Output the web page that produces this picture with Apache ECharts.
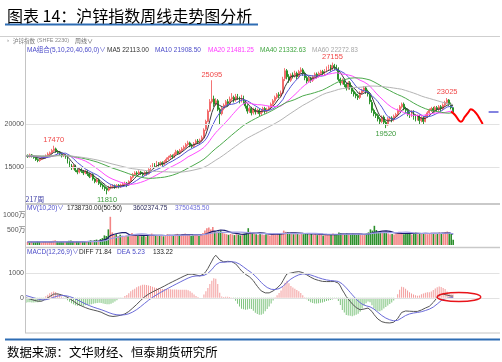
<!DOCTYPE html>
<html><head><meta charset="utf-8">
<script src="https://cdn.jsdelivr.net/npm/echarts@6/dist/echarts.min.js"></script>
<style>html,body{margin:0;padding:0;background:#fff}#c{width:502px;height:362px}</style>
</head><body><div id="c"></div>
<script>
// ---- data (weekly, 217 weeks) ----
const opens = [16250,16350,16200,16400,16250,16100,15850,15750,15900,16050,
16150,16300,16500,16650,16900,17100,16800,16700,16500,16300,
16400,16150,15600,15200,14900,15100,14600,14400,14700,14500,
14300,14500,14200,13900,14100,13600,13300,13500,13100,12900,
12700,12500,12300,12600,12700,12800,12650,12850,12700,12900,
13000,13100,12900,13300,13800,14100,14300,14200,14400,14250,
14100,14350,14200,14700,15000,15300,15100,15400,15250,15500,
15300,15600,15900,16100,16300,16200,16500,16800,16600,16900,
17100,17300,17600,17800,17500,17400,17700,18000,17900,18100,
18400,19400,20300,21500,22600,22900,22300,22700,21700,21200,
21800,22200,22600,22400,22900,23100,22800,23200,23000,22700,
23100,22600,22100,21500,21800,21300,21700,21400,21600,21200,
21500,21800,21500,21700,21900,22300,22700,23100,23400,23300,
23600,25300,26200,25500,25100,25700,25600,25900,25500,26100,
26300,25900,25400,25000,25300,25100,25500,25800,25600,25900,
26100,25900,26200,26500,26700,26400,26800,26600,26400,25200,
24800,25100,24600,24200,24800,24300,23800,23500,23300,23100,
23600,23900,24200,23800,23500,22500,21600,21200,21000,20600,
20300,20800,20200,19900,20600,20700,20500,20900,21100,21600,
22000,22300,21800,21600,21200,21000,21400,20800,20600,20900,
20400,20700,20300,20900,21300,21600,21800,21500,21900,21700,
22000,21800,22200,22500,22800,22300,21900];
const closes = [16350,16200,16400,16250,16100,15850,15750,15900,16050,16150,
16300,16500,16650,16900,17100,16800,16700,16500,16300,16400,
16150,15600,15200,14900,15100,14600,14400,14700,14500,14300,
14500,14200,13900,14100,13600,13300,13500,13100,12900,12700,
12500,12300,12600,12700,12800,12650,12850,12700,12900,13000,
13100,12900,13300,13800,14100,14300,14200,14400,14250,14100,
14350,14200,14700,15000,15300,15100,15400,15250,15500,15300,
15600,15900,16100,16300,16200,16500,16800,16600,16900,17100,
17300,17600,17800,17500,17400,17700,18000,17900,18100,18400,
19300,20300,21500,22600,22900,22300,22700,21700,21200,21800,
22200,22600,22400,22900,23100,22800,23200,23000,22700,23100,
22600,22100,21500,21800,21300,21700,21400,21600,21200,21500,
21800,21500,21700,21900,22300,22700,23100,23400,23300,23600,
25200,26200,25500,25100,25700,25600,25900,25500,26100,26300,
25900,25400,25000,25300,25100,25500,25800,25600,25900,26100,
25900,26200,26500,26700,26400,26800,26600,26500,25200,24800,
25100,24600,24200,24800,24300,23800,23500,23300,23100,23600,
23900,24200,23800,23500,22600,21600,21200,21000,20600,20300,
20800,20200,19900,20600,20700,20500,20900,21100,21600,22000,
22300,21800,21600,21200,21000,21400,20800,20600,20900,20400,
20700,20300,20900,21300,21600,21800,21500,21900,21700,22000,
21800,22200,22500,22800,22300,21900,21400];
const lows = [16100,16050,16100,16100,15950,15700,15550,15600,15800,15900,
16000,16200,16350,16500,16750,16650,16500,16300,16100,16150,
15950,15400,15000,14650,14700,14400,14150,14250,14300,14050,
14150,13950,13700,13750,13400,13100,13150,12900,12650,12400,
12200,11810,12150,12400,12500,12450,12500,12500,12550,12750,
12800,12650,12800,13200,13650,13950,14000,14050,14050,13900,
13950,14000,14100,14550,14850,14900,14950,15050,15100,15100,
15200,15450,15750,15950,15950,16050,16350,16400,16450,16750,
16950,17150,17450,17300,17200,17250,17550,17650,17700,17950,
18300,19200,20200,21400,22400,22000,22100,21500,19900,21000,
21600,22000,22100,22200,22700,22500,22600,22800,22400,22500,
22300,21800,21200,21300,21000,21100,21100,21200,20900,21000,
21300,21200,21300,21500,21700,22100,22500,22900,23000,23100,
23500,25000,25200,24800,24900,25300,25400,25200,25300,25900,
25600,25100,24700,24800,24800,24900,25300,25300,25400,25700,
25600,25700,26000,26300,26100,26200,26300,26200,25000,24500,
24600,24300,23900,24000,24000,23500,23200,23000,22800,22900,
23400,23700,23500,23200,22300,21300,20900,20700,20300,20000,
20100,19900,19520,19800,20400,20200,20300,20700,20900,21400,
21800,21600,21300,20900,20700,20800,20500,20300,20400,20000,
20200,20000,20200,20700,21100,21400,21300,21300,21400,21500,
21500,21600,22000,22300,22100,21700,21300];
const highs = [16500,16450,16550,16500,16350,16200,16000,16050,16200,16300,
16450,16700,16800,17100,17470,17250,16950,16850,16650,16600,
16500,16250,15750,15350,15300,15250,14750,14900,14850,14650,
14700,14650,14350,14300,14250,13750,13700,13650,13250,13050,
12850,12650,12800,12900,13000,12950,13000,13000,13050,13200,
13300,13250,13450,13950,14300,14500,14500,14600,14550,14400,
14500,14500,14850,15200,15450,15450,15700,15550,15650,15650,
15800,16100,16300,16500,16450,16700,17000,16950,17100,17300,
17500,17800,18050,17950,17700,17900,18200,18250,18300,18650,
19500,20500,21700,22900,25095,23300,23000,22900,21900,22000,
22400,22800,22900,23200,23600,23300,23500,23500,23200,23400,
23300,22800,22300,22000,22000,21900,21900,21800,21800,21700,
22000,22000,21900,22100,22500,22900,23300,23600,23700,23900,
25500,26500,26400,25800,25900,26000,26200,26100,26300,26600,
26500,26100,25600,25500,25500,25700,26000,26000,26100,26300,
26300,26400,26700,26900,26900,27155,27000,26900,26600,25400,
25300,25300,24800,25000,25000,24500,24000,23700,23500,23800,
24100,24400,24400,24000,23700,22800,21800,21400,21200,20800,
21000,21000,20400,20800,20900,20900,21100,21300,21800,22200,
22500,22500,22000,21800,21400,21600,21600,21000,21100,21100,
20900,20900,21100,21500,21800,22000,22000,22100,22100,22200,
22200,22400,22700,23025,22900,22500,22000];
const ma5 = [16300,16300,16300,16300,16260,16160,16070,15970,15930,15940,
16030,16180,16330,16500,16690,16790,16830,16800,16680,16540,
16410,16190,15930,15650,15390,15080,14840,14740,14660,14500,
14480,14440,14280,14200,14060,13820,13680,13520,13280,13100,
12940,12700,12600,12560,12580,12610,12720,12740,12780,12820,
12910,12920,13040,13220,13440,13680,13940,14160,14250,14250,
14260,14260,14320,14470,14710,14860,15100,15210,15310,15310,
15410,15510,15680,15840,16020,16200,16380,16480,16600,16780,
16940,17100,17340,17460,17520,17600,17680,17700,17820,18020,
18340,18800,19520,20420,21320,21920,22400,22440,22160,21940,
21920,21900,22040,22380,22640,22760,22880,23000,22960,22960,
22920,22700,22400,22220,21860,21680,21540,21560,21440,21480,
21500,21520,21540,21680,21840,22020,22340,22680,22960,23220,
23720,24340,24760,25120,25540,25620,25560,25560,25760,25880,
25940,25840,25740,25580,25340,25260,25340,25460,25580,25780,
25860,25940,26120,26280,26340,26520,26600,26600,26300,25980,
25640,25240,24780,24700,24600,24340,24120,23940,23600,23460,
23480,23620,23720,23800,23600,23140,22540,21980,21400,20940,
20780,20580,20360,20360,20440,20380,20520,20760,20960,21220,
21580,21760,21860,21780,21580,21400,21200,21000,20940,20820,
20680,20580,20640,20720,20960,21180,21420,21620,21700,21780,
21780,21920,22040,22260,22320,22340,22113];
const ma10 = [16300,16300,16280,16260,16250,16230,16185,16135,16115,16100,
16095,16125,16150,16215,16315,16410,16505,16565,16590,16615,
16600,16510,16365,16165,15965,15745,15515,15335,15155,14945,
14780,14640,14510,14430,14280,14150,14060,13900,13740,13580,
13380,13190,13060,12920,12840,12775,12710,12670,12670,12700,
12760,12820,12890,13000,13130,13295,13430,13600,13735,13845,
13970,14100,14240,14360,14480,14560,14680,14765,14890,15010,
15135,15305,15445,15575,15665,15805,15945,16080,16220,16400,
16570,16740,16910,17030,17150,17270,17390,17520,17640,17770,
17970,18240,18610,19120,19670,20130,20600,20980,21290,21630,
21920,22150,22240,22270,22290,22340,22390,22520,22670,22800,
22840,22790,22700,22590,22410,22300,22120,21980,21830,21670,
21590,21530,21550,21560,21660,21760,21930,22110,22320,22530,
22870,23340,23720,24040,24380,24670,24950,25160,25440,25710,
25780,25700,25650,25670,25610,25600,25590,25600,25580,25560,
25560,25640,25790,25930,26060,26190,26270,26360,26290,26160,
26080,25920,25690,25500,25290,24990,24680,24360,24150,24030,
23910,23870,23830,23700,23530,23310,23080,22850,22600,22270,
21960,21560,21170,20880,20690,20580,20550,20560,20660,20830,
20980,21140,21310,21370,21400,21490,21480,21430,21360,21200,
21040,20890,20820,20830,20890,20930,21000,21130,21210,21370,
21480,21670,21830,21980,22050,22060,21909];
const ma20 = [16300,16300,16290,16280,16275,16265,16240,16220,16210,16200,
16200,16210,16215,16240,16280,16320,16345,16350,16350,16360,
16350,16320,16260,16190,16140,16080,16010,15950,15870,15780,
15690,15575,15440,15300,15120,14950,14790,14620,14450,14260,
14080,13915,13785,13675,13560,13460,13385,13285,13205,13140,
13070,13005,12975,12960,12985,13035,13070,13135,13200,13270,
13365,13460,13565,13680,13805,13930,14055,14180,14310,14430,
14550,14700,14840,14970,15070,15180,15310,15420,15555,15705,
15850,16020,16180,16300,16410,16540,16670,16800,16930,17085,
17270,17490,17760,18075,18410,18700,18995,19250,19465,19700,
19945,20195,20425,20695,20980,21235,21495,21750,21980,22215,
22380,22470,22470,22430,22350,22320,22255,22250,22250,22235,
22215,22160,22125,22075,22035,22030,22025,22045,22075,22100,
22230,22435,22635,22800,23020,23215,23440,23635,23880,24120,
24325,24520,24685,24855,24995,25135,25270,25380,25510,25635,
25670,25670,25720,25800,25835,25895,25930,25980,25935,25860,
25820,25780,25740,25715,25675,25590,25475,25360,25220,25095,
24995,24895,24760,24600,24410,24150,23880,23605,23375,23150,
22935,22715,22500,22290,22110,21945,21815,21705,21630,21550,
21470,21350,21240,21125,21045,21035,21015,20995,21010,21015,
21010,21015,21065,21100,21145,21210,21240,21280,21285,21285,
21260,21280,21325,21405,21470,21495,21481];
const ma40 = [16300,16300,16295,16290,16290,16280,16270,16260,16255,16250,
16250,16255,16260,16270,16290,16310,16320,16325,16325,16330,
16325,16310,16275,16235,16210,16170,16125,16085,16040,15990,
15945,15890,15830,15770,15700,15635,15570,15485,15400,15310,
15215,15120,15020,14930,14850,14770,14700,14620,14540,14460,
14380,14290,14210,14130,14050,13990,13930,13880,13825,13765,
13720,13690,13675,13680,13680,13695,13720,13730,13760,13785,
13810,13850,13910,13965,14030,14110,14190,14280,14380,14490,
14610,14740,14870,14990,15110,15235,15360,15490,15620,15760,
15910,16095,16300,16520,16740,16940,17150,17335,17510,17700,
17900,18110,18300,18500,18695,18890,19080,19275,19455,19650,
19825,19980,20115,20250,20380,20510,20625,20750,20860,20970,
21080,21180,21275,21385,21510,21630,21760,21900,22030,22160,
22305,22450,22550,22615,22685,22770,22850,22940,23065,23180,
23270,23340,23405,23465,23515,23585,23650,23710,23795,23870,
23950,24055,24180,24300,24430,24555,24685,24810,24910,24990,
25075,25150,25215,25285,25335,25365,25375,25370,25365,25365,
25335,25285,25240,25200,25125,25025,24905,24795,24655,24505,
24380,24250,24120,24005,23890,23770,23645,23535,23425,23325,
23235,23125,23000,22865,22730,22595,22450,22300,22195,22085,
21975,21865,21785,21695,21630,21580,21530,21495,21460,21420,
21365,21315,21285,21265,21260,21265,21333];
const ma60 = [16300,16300,16297,16293,16293,16287,16280,16273,16270,16267,
16267,16270,16273,16280,16293,16307,16313,16317,16317,16320,
16317,16307,16283,16257,16240,16213,16183,16157,16127,16093,
16063,16027,15987,15947,15900,15857,15813,15757,15700,15640,
15577,15513,15443,15380,15325,15268,15213,15153,15097,15040,
14987,14930,14878,14833,14793,14767,14735,14703,14667,14630,
14597,14567,14537,14517,14500,14490,14483,14470,14463,14450,
14437,14425,14420,14410,14393,14390,14390,14393,14403,14413,
14433,14465,14508,14552,14593,14643,14702,14755,14815,14887,
14963,15065,15192,15333,15488,15638,15790,15935,16073,16223,
16388,16560,16722,16893,17065,17237,17405,17577,17740,17910,
18067,18220,18357,18490,18610,18733,18853,18973,19092,19215,
19337,19460,19577,19690,19810,19933,20063,20200,20330,20468,
20627,20797,20953,21102,21260,21413,21565,21710,21865,22020,
22162,22292,22412,22542,22670,22802,22932,23057,23190,23318,
23427,23527,23610,23677,23737,23810,23875,23957,24023,24072,
24122,24153,24185,24215,24235,24253,24258,24262,24268,24277,
24300,24335,24372,24400,24423,24422,24417,24408,24397,24377,
24362,24340,24308,24288,24258,24225,24187,24150,24120,24095,
24047,23973,23907,23843,23765,23695,23610,23527,23442,23343,
23257,23170,23103,23035,22978,22917,22845,22783,22713,22645,
22575,22508,22443,22377,22310,22227,22273];
// volume in 万
const vols = [100,80,120,90,90,130,110,80,100,110,
90,110,120,140,160,130,100,100,90,80,
100,140,150,120,110,130,120,100,110,130,
110,130,150,120,160,180,150,200,230,320,
300,520,940,420,330,360,300,340,310,280,
320,290,360,400,350,330,300,320,290,310,
280,300,350,380,340,310,330,300,320,290,
330,360,340,310,300,350,370,320,340,360,
380,350,330,300,320,360,340,310,350,400,
480,560,580,520,600,460,420,450,480,400,
380,360,340,370,350,330,360,340,320,350,
380,420,560,440,400,380,360,340,370,350,
330,360,340,320,350,380,400,370,360,390,
480,440,420,400,380,360,390,370,350,380,
360,400,380,350,370,340,360,330,350,340,
320,350,370,360,340,380,350,330,420,400,
380,360,400,370,350,380,360,340,370,350,
330,360,380,420,520,480,640,500,440,460,
420,400,440,380,360,370,350,380,400,420,
380,360,390,370,400,350,380,410,360,390,
370,400,380,360,390,410,380,360,400,420,
380,400,430,450,410,380,174];
const mv10 = [105,105,105,104,104,104,104,103,103,103,
102,104,105,107,109,110,108,108,107,105,
106,108,111,110,107,106,107,106,108,111,
115,117,120,120,125,130,133,143,155,174,
194,233,312,342,359,377,392,406,414,410,
412,389,331,329,331,328,328,326,324,327,
323,324,323,321,320,318,321,319,322,320,
317,323,322,323,324,328,332,334,336,343,
348,347,346,345,347,348,345,344,345,349,
359,380,405,427,455,465,473,487,500,500,
490,470,446,431,406,393,387,376,360,355,
355,361,383,390,395,400,400,400,405,405,
400,394,372,360,355,355,359,362,361,365,
380,388,396,404,407,405,404,401,400,399,
387,383,379,374,373,371,368,364,361,357,
353,349,348,349,346,350,349,349,356,362,
368,369,372,373,374,374,375,376,371,366,
361,361,359,364,381,391,419,435,442,453,
462,466,472,468,452,441,412,400,396,392,
388,384,384,383,387,385,388,391,387,384,
383,387,386,385,384,390,390,385,389,392,
393,393,398,407,409,406,360];
const mv20 = [106,106,106,106,106,106,106,105,105,105,
105,105,105,106,106,106,106,106,106,105,
105,106,107,107,107,107,107,107,107,108,
110,111,112,113,115,118,120,124,130,140,
150,168,208,225,238,252,262,274,285,292,
300,310,322,335,344,352,360,366,369,368,
367,356,328,325,326,323,324,322,323,323,
316,319,318,318,318,319,322,322,325,327,
332,335,334,334,335,338,338,339,340,346,
354,364,375,386,401,406,409,416,422,424,
424,425,425,429,430,429,430,431,430,427,
423,416,414,410,400,396,393,388,382,380,
378,377,377,375,375,377,379,381,383,385,
390,391,384,382,381,380,381,381,380,382,
383,385,387,389,390,388,386,382,380,378,
370,366,363,361,359,360,358,356,358,359,
360,359,360,361,360,362,362,362,363,364,
364,365,365,368,377,382,397,405,406,409,
411,413,415,416,416,416,415,417,419,422,
425,425,428,425,419,413,400,395,391,388,
385,385,385,384,385,387,389,388,388,388,
388,390,392,396,396,395,375];
const diff = [-10,-25,-50,-80,-100,-120,-140,-150,-140,-100,
-50,0,50,100,150,170,160,140,120,90,
60,20,-30,-90,-140,-200,-250,-290,-330,-370,
-400,-430,-460,-480,-500,-520,-540,-560,-590,-630,
-670,-710,-740,-760,-765,-760,-745,-730,-715,-695,
-660,-620,-560,-490,-420,-350,-270,-190,-110,-30,
40,100,150,200,240,280,320,360,400,440,
480,530,570,610,650,690,730,770,810,850,
890,930,960,975,970,950,930,910,895,900,
980,1080,1200,1350,1500,1650,1740,1700,1550,1480,
1470,1480,1490,1490,1480,1450,1390,1300,1200,1100,
1030,960,900,860,800,700,580,470,370,280,
220,200,190,200,230,280,350,400,470,560,
700,850,980,1005,1010,1030,1050,1065,1070,1060,
1030,990,940,890,840,800,760,730,710,690,
670,665,663,663,663,665,665,660,600,480,
320,190,50,-50,-150,-250,-330,-400,-460,-490,
-480,-460,-440,-420,-460,-560,-680,-780,-870,-940,
-980,-1000,-1020,-1030,-1030,-1025,-1000,-940,-850,-720,
-600,-560,-540,-540,-550,-555,-558,-560,-558,-540,
-500,-460,-420,-380,-350,-280,-190,-90,20,110,
140,150,140,110,80,70,71.84];
const dea = [90,67,44,19,-5,-28,-50,-70,-84,-87,
-80,-64,-41,-13,20,50,72,86,93,92,
86,73,52,24,-9,-47,-88,-128,-168,-208,
-246,-283,-318,-350,-380,-408,-434,-459,-485,-514,
-545,-578,-610,-640,-665,-684,-696,-703,-705,-703,
-694,-679,-655,-622,-582,-536,-483,-424,-361,-295,
-228,-162,-100,-40,16,69,119,167,214,259,
303,348,392,436,479,521,563,604,645,686,
727,768,806,840,866,883,892,896,896,897,
914,947,998,1068,1154,1253,1350,1420,1446,1453,
1456,1461,1467,1472,1474,1469,1453,1422,1378,1322,
1264,1203,1142,1086,1029,963,886,803,716,629,
547,478,420,376,347,334,337,350,374,411,
469,545,632,707,768,820,866,906,939,963,
976,979,971,955,932,906,877,848,820,794,
769,748,731,717,706,698,691,685,668,630,
568,492,404,313,220,126,35,-52,-134,-205,
-260,-300,-328,-346,-369,-407,-462,-526,-595,-664,
-727,-782,-830,-870,-902,-927,-942,-942,-924,-883,
-826,-773,-726,-689,-661,-640,-624,-611,-600,-588,
-570,-548,-522,-494,-465,-428,-380,-322,-254,-181,
-117,-64,-40,-20,-8,0,5.23];
const macdHist = [-200,-184,-188,-198,-190,-184,-180,-160,-112,-26,
60,128,182,226,260,240,176,108,54,-4,
-52,-106,-164,-228,-262,-306,-324,-324,-324,-324,
-308,-294,-284,-260,-240,-224,-212,-202,-210,-232,
-250,-264,-260,-240,-200,-152,-98,-54,-20,16,
68,118,190,264,324,372,426,468,502,530,
536,524,500,480,448,422,402,386,372,362,
354,364,356,348,342,338,334,332,330,328,
326,324,308,270,208,134,76,28,-2,6,
132,266,404,564,692,794,780,560,208,54,
28,38,46,36,12,-38,-126,-244,-356,-444,
-468,-486,-484,-452,-458,-526,-612,-666,-692,-698,
-654,-556,-460,-352,-234,-108,26,100,192,298,
462,610,696,596,484,420,368,318,262,194,
108,22,-62,-130,-184,-212,-234,-236,-220,-208,
-198,-166,-136,-108,-86,-66,-52,-50,-136,-300,
-496,-604,-708,-726,-740,-752,-730,-696,-652,-570,
-440,-320,-224,-148,-182,-306,-436,-508,-550,-552,
-506,-436,-380,-320,-256,-196,-116,4,148,326,
452,426,372,298,222,170,132,102,84,96,
140,176,204,228,230,260,320,380,430,460,
440,400,360,260,176,140,133.22];
// extreme price annotations
const markIdx = [14,41,94,155,182,213];
const markVal = [17470,11810,25095,27155,19520,23025];
const markHigh = [true,false,true,true,false,true];
// hand-drawn forecast wave (red)
const waveIdx = [215,217,219,220,222,224,225,227,229,230,231];
const waveVal = [21430,21050,20400,20270,20850,21450,21710,21430,20800,20400,20000];
const priceTicks = [20000,15000];
const macdTicks = [1000,0];
const lastPrice = 21400;

// ---- chart ----
const N = 240;
const weeks = Array.from({length:N},(_,i)=>'W'+(i+1));
const FONT = '"Liberation Sans","Noto Sans CJK SC",sans-serif';
const CJK = '"Noto Sans CJK SC",sans-serif';
const RED = '#f26464', GRN = '#1e8b1e';
const candle = opens.map((o,i)=>[o,closes[i],lows[i],highs[i]]);
const volData = vols.map((v,i)=>({value:v,itemStyle:{color: closes[i]>=opens[i]?'#f38585':'#2b8f2b'}}));
const histData = macdHist.map(v=>({value:v,itemStyle:{color: v>=0?'#f39c9c':'#7fc47f'}}));
const wave = waveIdx.map((x,i)=>[x,waveVal[i]]);

let gid = 0;
function T(x,y,text,fill,size,family){
  return {type:'text', id:'t'+(gid++), silent:true, z:100,
    style:{x:x,y:y,text:text,fill:fill,font:size+'px '+(family||FONT),textVerticalAlign:'middle',textAlign:'left'}};
}
function L(x1,y1,x2,y2,stroke,w){
  return {type:'line', id:'l'+(gid++), silent:true, z:90, shape:{x1,y1,x2,y2}, style:{stroke:stroke,lineWidth:w||1}};
}
function R(x,y,w,h,fill){
  return {type:'rect', id:'r'+(gid++), silent:true, z:90, shape:{x:x,y:y,width:w,height:h}, style:{fill:fill}};
}
const graphics = [
  T(7,15.5,'图表 14：沪锌指数周线走势图分析','#000',16,CJK),
  R(5,23.5,253,2,'#2e6db4'),
  L(0,36.5,500,36.5,'#cfcfcf',1),
  T(7,40.5,'›','#777',6),
  T(13,40.5,'沪锌指数','#777',5.5,CJK),
  T(37,40.5,'(SHFE 2230)','#888',5.5),
  T(75,40.5,'周线∨','#666',6,CJK),
  L(25.5,44,25.5,333,'#c4c4c4',1),
  T(27,50,'MA组合(5,10,20,40,60,0)∨','#4a4ac8',6.5),
  T(107,50,'MA5 22113.00','#333',6.5),
  T(155,50,'MA10 21908.50','#4a4ac8',6.5),
  T(208,50,'MA20 21481.25','#ff3cff',6.5),
  T(260,50,'MA40 21332.63','#3fa53f',6.5),
  T(312,50,'MA60 22272.83','#a8a8a8',6.5),
  T(25.5,199,'217周','#4343a8',7,CJK),
  L(25,204,500,204,'#c9c9c9',2),
  T(27,208,'MV(10,20)∨','#4a4ac8',6.5),
  T(67,208,'1738730.00(50:50)','#222',6.5),
  T(133,208,'3602374.75','#2a2a5a',6.5),
  T(175,208,'3750435.50','#6a6ad8',6.5),
  L(25,247.5,500,247.5,'#c9c9c9',1.5),
  T(27,252,'MACD(12,26,9)∨','#4a4ac8',6.5),
  T(79,252,'DIFF 71.84','#222',6.5),
  T(117,252,'DEA 5.23','#4a4ac8',6.5),
  T(153,252,'133.22','#222',6.5),
  L(25,333,500,333,'#c4c4c4',1),
  R(5,338.5,495,2,'#2e6db4'),
  T(7,352.5,'数据来源：文华财经、恒泰期货研究所','#000',12.4,CJK)
];

const gridLineLabel = {show:true, position:'start', distance:1, fontSize:7, color:'#555', fontFamily:FONT, formatter:'{c}'};
const option = {
  animation:false,
  backgroundColor:'#fff',
  grid:[
    {left:25, top:45, width:474.5, height:158},
    {left:25, top:212, width:474.5, height:33},
    {left:25, top:255, width:474.5, height:77}
  ],
  xAxis:[0,1,2].map(k=>({type:'category', gridIndex:k, data:weeks, show:false, boundaryGap:true})),
  yAxis:[
    {type:'value', gridIndex:0, min:10800, max:29200, show:false},
    {type:'value', gridIndex:1, min:0, max:1100, interval:500,
      axisLine:{show:false}, axisTick:{show:false}, splitLine:{show:false},
      axisLabel:{fontSize:7, color:'#555', margin:1, fontFamily:FONT,
        formatter:v=> v===500?'500万':(v===1000?'1000万':'')}},
    {type:'value', gridIndex:2, min:-1400, max:1750, show:false}
  ],
  graphic: graphics,
  series:[
    {type:'candlestick', name:'沪锌指数', xAxisIndex:0, yAxisIndex:0, data:candle, barWidth:1.4, silent:true,
      itemStyle:{color:RED, color0:GRN, borderColor:RED, borderColor0:GRN, borderWidth:0.9},
      markLine:{silent:true, symbol:['none','none'], animation:false,
        lineStyle:{color:'#e2e2e2', width:1, type:'solid'}, label:gridLineLabel,
        data: priceTicks.map(v=>({yAxis:v})).concat([[
          {coord:[234,lastPrice], lineStyle:{color:'#5a5ad6',width:1.5,type:'solid'}, label:{show:false}},
          {coord:[239,lastPrice]}
        ]])},
      markPoint:{silent:true, symbol:'circle', symbolSize:0.1, itemStyle:{color:'rgba(0,0,0,0)'},
        data: markIdx.map((x,i)=>({coord:[x,markVal[i]], value:markVal[i],
          label:{show:true, position: markHigh[i]?'top':'bottom', distance:2, fontSize:7.5, fontFamily:FONT,
                 color: markHigh[i]?'#f04848':'#3c9a3c', formatter:'{c}'}}))}
    },
    {type:'line', name:'MA5', xAxisIndex:0, yAxisIndex:0, data:ma5, symbol:'none', silent:true, lineStyle:{color:'#3a3a3a',width:1}},
    {type:'line', name:'MA10', xAxisIndex:0, yAxisIndex:0, data:ma10, symbol:'none', silent:true, lineStyle:{color:'#5656d8',width:1}},
    {type:'line', name:'MA20', xAxisIndex:0, yAxisIndex:0, data:ma20, symbol:'none', silent:true, lineStyle:{color:'#ff4cff',width:1}},
    {type:'line', name:'MA40', xAxisIndex:0, yAxisIndex:0, data:ma40, symbol:'none', silent:true, lineStyle:{color:'#4caa4c',width:1}},
    {type:'line', name:'MA60', xAxisIndex:0, yAxisIndex:0, data:ma60, symbol:'none', silent:true, lineStyle:{color:'#b4b4b4',width:1}},
    {type:'line', name:'预测', xAxisIndex:0, yAxisIndex:0, data:wave, symbol:'none', smooth:0.5, silent:true, lineStyle:{color:'#ff0000',width:2}},
    {type:'bar', name:'VOL', xAxisIndex:1, yAxisIndex:1, data:volData, barWidth:1.6, silent:true},
    {type:'line', name:'MV10', xAxisIndex:1, yAxisIndex:1, data:mv10, symbol:'none', silent:true, lineStyle:{color:'#1c1c72',width:1.2}},
    {type:'line', name:'MV20', xAxisIndex:1, yAxisIndex:1, data:mv20, symbol:'none', silent:true, lineStyle:{color:'#9f9fe6',width:1.2}},
    {type:'bar', name:'MACD', xAxisIndex:2, yAxisIndex:2, data:histData, barWidth:1, silent:true,
      markLine:{silent:true, symbol:['none','none'], animation:false,
        lineStyle:{color:'#e2e2e2', width:1, type:'solid'}, label:gridLineLabel,
        data: macdTicks.map(v=>({yAxis:v}))}},
    {type:'line', name:'DIFF', xAxisIndex:2, yAxisIndex:2, data:diff, symbol:'none', silent:true, lineStyle:{color:'#555',width:1}},
    {type:'line', name:'DEA', xAxisIndex:2, yAxisIndex:2, data:dea, symbol:'none', silent:true, lineStyle:{color:'#6b6bd9',width:1}}
  ]
};
const chart = echarts.init(document.getElementById('c'));
chart.setOption(option);
// red ellipse annotation around the latest MACD cross, positioned through the MACD axes
const pc = chart.convertToPixel({gridIndex:2},[219,30]);
const pl = chart.convertToPixel({gridIndex:2},[208,0]);
const pr = chart.convertToPixel({gridIndex:2},[230,185]);
chart.setOption({graphic:[{type:'ellipse', id:'ell', silent:true, z:120,
  shape:{cx:pc[0], cy:pc[1], rx:(pr[0]-pl[0])/2, ry:Math.abs(pr[1]-pl[1])},
  style:{fill:'none', stroke:'#e8141a', lineWidth:1.5}}]});
</script>
</body></html>
